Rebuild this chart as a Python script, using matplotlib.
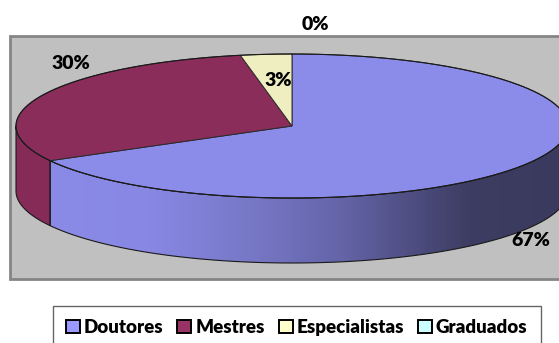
import numpy as np
import matplotlib.pyplot as plt
from matplotlib.patches import Polygon, Rectangle, Patch
from matplotlib.colors import LinearSegmentedColormap

# ---- data ----
categories = ["Doutores", "Mestres", "Especialistas", "Graduados"]
values = [67, 30, 3, 0]
pct_labels = ["67%", "30%", "3%", "0%"]

# ---- style ----
top_colors = ["#8B8BEA", "#8B2D5A", "#EEEEC0", "#C8F5F5"]
side_colors = [None, "#862B57", "#E0E0B4", "#C0EEEE"]
legend_colors = ["#9999FF", "#993366", "#FFFFCC", "#CCFFFF"]
label_offsets = [(1, 78), (29, -32), (12, 26), (23, -29)]
FONT = "Lato"
WEIGHT = "heavy"

W, H = 559, 343
fig = plt.figure(figsize=(W / 100, H / 100), dpi=100)
ax = fig.add_axes([0, 0, 1, 1])
ax.set_xlim(0, W)
ax.set_ylim(H, 0)
ax.axis("off")

# plot area
ax.add_patch(Rectangle((10, 36), 580, 243, facecolor="#C0C0C0",
                       edgecolor="#858585", lw=2, zorder=0))

cx, cy, a, b, depth = 292, 126, 276, 72, 65


def arc(t0, t1, dy=0, n=200):
    t = np.radians(np.linspace(t0, t1, n))
    return np.column_stack([cx + a * np.cos(t), cy - b * np.sin(t) + dy])


total = float(sum(values))
starts, ends = [], []
ang = 90.0
for v in values:
    span = 360.0 * v / total
    starts.append(ang)
    ends.append(ang - span)
    ang -= span

# gradient for side of first slice
grad_stops = [(0.0, (139, 139, 232)), (0.24, (136, 136, 228)), (0.42, (120, 120, 200)),
              (0.59, (100, 100, 168)), (0.73, (76, 76, 126)), (0.82, (61, 61, 99)),
              (1.0, (58, 58, 94))]
cmap = LinearSegmentedColormap.from_list(
    "side", [(p, tuple(c / 255 for c in col)) for p, col in grad_stops])

# side walls
for i, v in enumerate(values):
    if v == 0:
        continue
    lo, hi = ends[i], starts[i]
    for k in range(-2, 2):
        f0, f1 = -180 + 360 * k, 360 * k
        s0, s1 = max(lo, f0), min(hi, f1)
        if s1 <= s0:
            continue
        top = arc(s0, s1)
        bot = arc(s1, s0, dy=depth)
        poly = np.vstack([top, bot])
        if side_colors[i] is None:
            p = Polygon(poly, closed=True, facecolor="none", edgecolor="none", zorder=1)
            ax.add_patch(p)
            grad = np.linspace(0, 1, 600).reshape(1, -1)
            im = ax.imshow(grad, cmap=cmap, aspect="auto",
                           extent=(cx - a, cx + a, cy + b + depth + 5, cy - b), zorder=1)
            im.set_clip_path(p)
        else:
            ax.add_patch(Polygon(poly, closed=True, facecolor=side_colors[i],
                                 edgecolor="none", zorder=1))
        ax.add_patch(Polygon(poly, closed=True, facecolor="none",
                             edgecolor="#1a1a1a", lw=0.8, zorder=2))

# top faces
for i, v in enumerate(values):
    if v == 0:
        continue
    pts = np.vstack([[cx, cy], arc(starts[i], ends[i])])
    ax.add_patch(Polygon(pts, closed=True, facecolor=top_colors[i],
                         edgecolor="#2a2a2a", lw=0.7, zorder=3))
ell = arc(0, 360, n=500)
ax.plot(ell[:, 0], ell[:, 1], color="#1a1a1a", lw=0.8, zorder=4)

# data labels
for i, lab in enumerate(pct_labels):
    mid = (starts[i] + ends[i]) / 2.0
    x, y = arc(mid, mid, n=1)[0]
    dx, dy = label_offsets[i]
    ax.text(x + dx, y + dy, lab, ha="center", va="center", fontsize=14,
            fontweight=WEIGHT, family=FONT, color="black", zorder=6)

# legend
handles = [Patch(facecolor=c, edgecolor="black", lw=1.4) for c in legend_colors]
leg = fig.legend(handles, categories, loc="upper left",
                 bbox_to_anchor=(52.8 / W, 1 - 306 / H), bbox_transform=fig.transFigure,
                 ncol=4, frameon=True, fancybox=False, borderaxespad=0,
                 prop={"family": FONT, "weight": WEIGHT, "size": 13.5},
                 handlelength=0.75, handleheight=0.7, handletextpad=0.2,
                 columnspacing=0.75, borderpad=0.7)
leg.get_frame().set_edgecolor("#404040")
leg.get_frame().set_linewidth(1.0)

fig.savefig("out.png", dpi=100)
